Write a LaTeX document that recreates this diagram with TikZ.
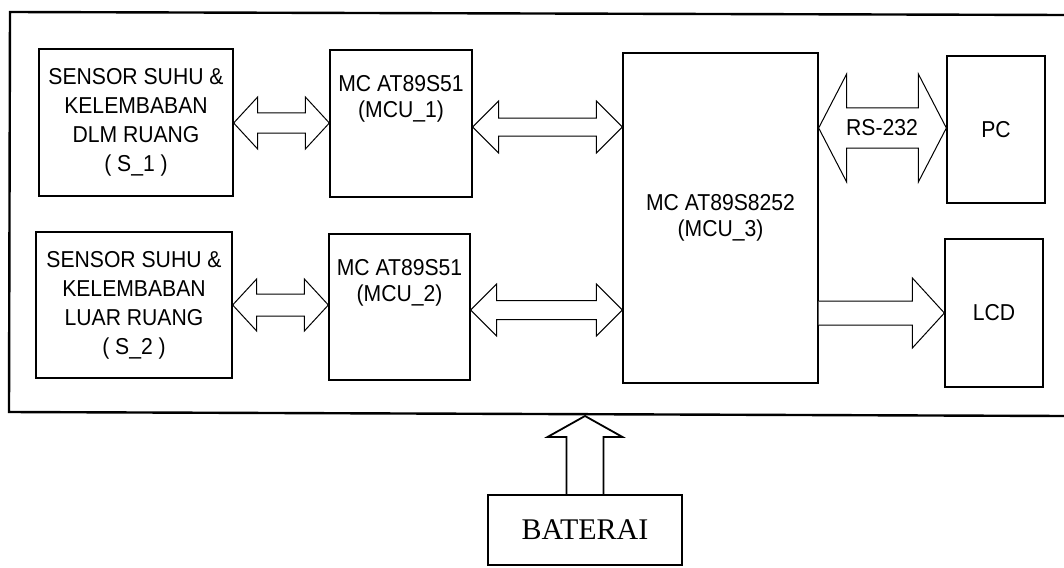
\documentclass[tikz,border=0pt]{standalone}
\usepackage{fontspec}
\setmainfont{Liberation Sans}
\newfontfamily\diagfont[FakeStretch=0.92]{Liberation Sans}
\newfontfamily\serifbat{Liberation Serif}
\usetikzlibrary{calc}
\tikzset{
  blk/.style={draw=black, line width=1.3pt, rectangle, inner sep=0pt},
  txt/.style={align=center, font=\diagfont\fontsize{23}{26}\selectfont, inner sep=0pt},
  stxt/.style={align=center, font=\diagfont\fontsize{23}{29}\selectfont, inner sep=0pt},
  arr/.style={draw=black, line width=1pt, fill=white, line join=miter},
  frame/.style={draw=black, line width=2.4pt},
  batbox/.style={draw=black, line width=2pt, rectangle, inner sep=0pt},
  batarr/.style={draw=black, line width=1.8pt, line join=miter}
}
\newcommand{\dblarr}[6]{%
  \coordinate (dA) at (#1.east |- 0,#3);
  \coordinate (dB) at (#2.west |- 0,#3);
  \draw[arr] (dA) -- ($(dA)+(#4,-#5)$) -- ($(dA)+(#4,-#6)$) -- ($(dB)+(-#4,-#6)$)
    -- ($(dB)+(-#4,-#5)$) -- (dB) -- ($(dB)+(-#4,#5)$) -- ($(dB)+(-#4,#6)$)
    -- ($(dA)+(#4,#6)$) -- ($(dA)+(#4,#5)$) -- cycle;}
\begin{document}
\begin{tikzpicture}[x=1pt,y=-1pt]
\useasboundingbox[fill=white] (0,0) rectangle (1064,567);
% outer frame
\draw[frame] (1064,15) -- (10,12) -- (9,412) -- (1064,416);
% blocks
\node[blk, minimum width=194, minimum height=147] (s1) at (136,122.5) {};
\node[stxt] at (s1.center) {SENSOR SUHU \&\\KELEMBABAN\\DLM RUANG\\( S\_1 )};
\node[blk, minimum width=196, minimum height=146] (s2) at (134,305) {};
\node[stxt] at (s2.center) {SENSOR SUHU \&\\KELEMBABAN\\LUAR RUANG\\( S\_2 )};
\node[blk, minimum width=142, minimum height=147] (m1) at (401,123.5) {};
\node[txt] at ($(m1.center)+(0,-25)$) {MC AT89S51\\(MCU\_1)};
\node[blk, minimum width=141, minimum height=146] (m2) at (399.5,307) {};
\node[txt] at ($(m2.center)+(0,-24)$) {MC AT89S51\\(MCU\_2)};
\node[blk, minimum width=195, minimum height=330] (m3) at (720.5,218) {};
\node[txt] at (m3.center) {MC AT89S8252\\(MCU\_3)};
\node[blk, minimum width=98, minimum height=147] (pc) at (996,129.5) {};
\node[txt] at (pc.center) {PC};
\node[blk, minimum width=98, minimum height=148] (lcd) at (994,313) {};
\node[txt] at (lcd.center) {LCD};
\node[batbox, minimum width=194, minimum height=70] (bat) at (585,530) {};
\node[inner sep=0pt, font=\serifbat\fontsize{30}{30}\selectfont] at (bat.center) {BATERAI};
% connectors
\dblarr{s1}{m1}{123}{24}{26}{10}
\dblarr{s2}{m2}{305}{24}{26}{11}
\dblarr{m1}{m3}{127}{26}{26}{9}
\dblarr{m2}{m3}{310}{26}{26}{9.5}
\dblarr{m3}{pc}{128}{28}{54}{20}
\node[txt] at (882,128) {RS-232};
% single arrow to LCD
\coordinate (lA) at (m3.east |- 0,313);
\coordinate (lB) at (lcd.west |- 0,313);
\draw[arr] ($(lA)+(0,-12)$) -- ($(lB)+(-32,-12)$) -- ($(lB)+(-32,-35)$) -- (lB)
  -- ($(lB)+(-32,35)$) -- ($(lB)+(-32,12)$) -- ($(lA)+(0,12)$);
% battery arrow
\coordinate (btip) at (bat.north |- 0,416);
\draw[batarr] ($(bat.north)+(-18.5,0)$) -- ($(btip)+(-18.5,21)$) -- ($(btip)+(-37.5,21)$)
  -- (btip) -- ($(btip)+(37.5,21)$) -- ($(btip)+(18.5,21)$) -- ($(bat.north)+(18.5,0)$);
\end{tikzpicture}
\end{document}
